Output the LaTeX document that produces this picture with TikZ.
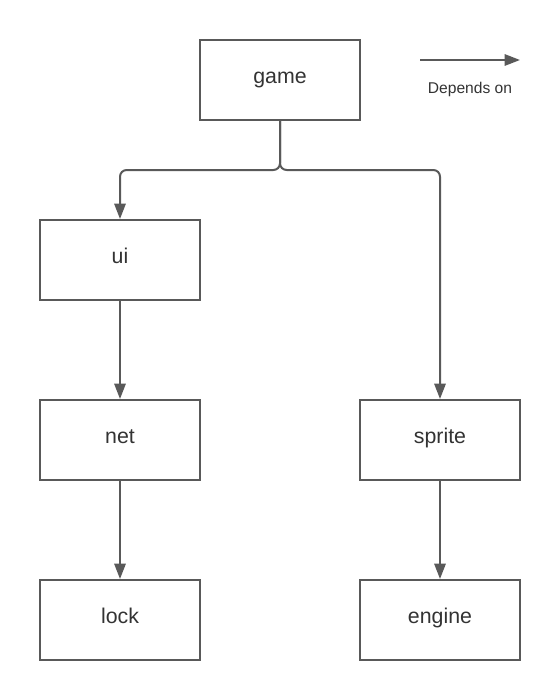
\documentclass[tikz,border=0pt]{standalone}
\usepackage{fontspec}
\setmainfont{Liberation Sans}
\usetikzlibrary{arrows.meta}
\definecolor{linegray}{HTML}{595959}
\definecolor{textgray}{HTML}{333333}
\tikzset{
  module/.style={draw=linegray, line width=1.5pt, minimum width=120pt,
    minimum height=60pt, inner sep=0pt, text height=9pt, text depth=4.5pt,
    text=textgray, font=\fontsize{16}{18}\selectfont},
  dep/.style={draw=linegray, line width=1.5pt, rounded corners=5pt,
    -{Triangle[length=11.5pt, width=8.5pt]}}
}
\begin{document}
\begin{tikzpicture}[x=0.75pt, y=-0.75pt]
      \useasboundingbox (0,0) rectangle (560,700);
      \draw
        (280,80) node[module] (game){game}
        (120,260) node[module] (ui){ui}
        (120,440) node[module] (net){net}
        (120,620) node[module] (lock){lock}
        (440,440) node[module] (sprite){sprite}
        (440,620) node[module] (engine){engine};
      \coordinate (legendA) at (420,60);
      \coordinate (legendB) at (520,60);
      \node[text=textgray, font=\fontsize{11.7}{13}\selectfont] (legend) at (470,89) {Depends on};
      \begin{scope}[dep]
        \draw (game.south) -- (280,170) -| (ui.north);
        \draw (game.south) -- (280,170) -| (sprite.north);
        \draw (ui) to (net);
        \draw (net) to (lock);
        \draw (sprite) to (engine);
        \draw (legendA) to (legendB);
      \end{scope}
    \end{tikzpicture}
\end{document}
